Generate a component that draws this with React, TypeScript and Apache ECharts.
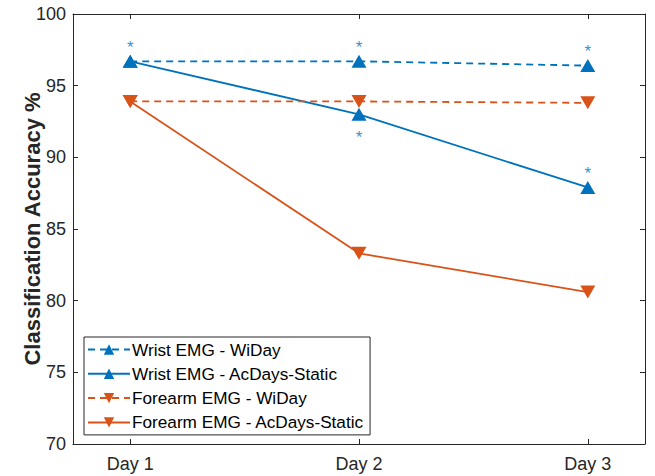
import React, { useEffect, useRef } from "react";
import * as echarts from "echarts";

const dayLabels = ["Day 1", "Day 2", "Day 3"];
const dayPositions = [1, 2, 3];
const wristWiDay = [96.7, 96.7, 96.4];
const wristAcDays = [96.7, 93.0, 87.9];
const forearmWiDay = [93.9, 93.9, 93.8];
const forearmAcDays = [93.9, 83.3, 80.6];
const starMarks: [number, number][] = [
  [1, 97.9],
  [2, 97.9],
  [3, 97.6],
  [2, 91.6],
  [3, 89.1],
];
const seriesNames = [
  "Wrist EMG - WiDay",
  "Wrist EMG - AcDays-Static",
  "Forearm EMG - WiDay",
  "Forearm EMG - AcDays-Static",
];

const BLUE = "#0072BD";
const ORANGE = "#D95319";
const AXIS = "#262626";
const FONT = "Liberation Sans, Arial, sans-serif";

function pts(vals: number[]) {
  return vals.map((v, i) => [dayPositions[i], v]);
}

export default function App() {
  const ref = useRef<HTMLDivElement>(null);
  useEffect(() => {
    if (!ref.current) return;
    const chart = echarts.init(ref.current, null, { renderer: "svg" });
    const mk = (
      name: string,
      vals: number[],
      color: string,
      dashed: boolean,
      down: boolean
    ) => ({
      name,
      type: "line",
      data: pts(vals),
      symbol: "triangle",
      symbolSize: [15, 13],
      symbolRotate: down ? 180 : 0,
      showAllSymbol: true,
      lineStyle: { color, width: 1.8, type: dashed ? [7, 5] : "solid" },
      itemStyle: { color },
      z: 3,
    });
    chart.setOption({
      animation: false,
      backgroundColor: "#fff",
      grid: { left: 73, right: 10, top: 14, bottom: 32, containLabel: false },
      xAxis: [
        {
          type: "value",
          min: 0.75,
          max: 3.25,
          axisLine: { show: true, lineStyle: { color: AXIS, width: 1 } },
          axisTick: { show: true, inside: true, length: 5, customValues: dayPositions, lineStyle: { color: AXIS } },
          axisLabel: {
            customValues: dayPositions,
            formatter: (v: number) => dayLabels[Math.round(v) - 1] ?? "",
            fontSize: 18,
            color: AXIS,
            fontFamily: FONT,
            margin: 11,
          },
          splitLine: { show: false },
        },
        {
          type: "value",
          position: "top",
          min: 0.75,
          max: 3.25,
          axisLine: { show: true, lineStyle: { color: AXIS, width: 1 } },
          axisTick: { show: true, inside: true, length: 5, customValues: dayPositions, lineStyle: { color: AXIS } },
          axisLabel: { show: false },
          splitLine: { show: false },
        },
      ],
      yAxis: [
        {
          type: "value",
          min: 70,
          max: 100,
          interval: 5,
          name: "Classification Accuracy %",
          nameLocation: "middle",
          nameGap: 30,
          nameMoveOverlap: false,
          nameTextStyle: { fontSize: 22, fontWeight: "bold", color: AXIS, fontFamily: FONT },
          axisLine: { show: true, lineStyle: { color: AXIS, width: 1 } },
          axisTick: { show: true, inside: true, length: 5, lineStyle: { color: AXIS } },
          axisLabel: { fontSize: 18, color: AXIS, fontFamily: FONT, margin: 7 },
          splitLine: { show: false },
        },
        {
          type: "value",
          position: "right",
          min: 70,
          max: 100,
          interval: 5,
          axisLine: { show: true, lineStyle: { color: AXIS, width: 1 } },
          axisTick: { show: true, inside: true, length: 5, lineStyle: { color: AXIS } },
          axisLabel: { show: false },
          splitLine: { show: false },
        },
      ],
      legend: {
        data: seriesNames,
        orient: "vertical",
        left: 84,
        top: 337,
        itemWidth: 42,
        itemHeight: 13,
        itemGap: 7.3,
        padding: [4, 6, 4, 3],
        backgroundColor: "#fff",
        borderColor: AXIS,
        borderWidth: 1,
        textStyle: { fontSize: 17.2, color: "#000", fontFamily: FONT, padding: [0, 0, 0, -3] },
      },
      series: [
        mk(seriesNames[0], wristWiDay, BLUE, true, false),
        mk(seriesNames[1], wristAcDays, BLUE, false, false),
        mk(seriesNames[2], forearmWiDay, ORANGE, true, true),
        mk(seriesNames[3], forearmAcDays, ORANGE, false, true),
        {
          name: "sig",
          type: "scatter",
          data: starMarks,
          symbol: "circle",
          symbolSize: 1,
          itemStyle: { color: "rgba(0,0,0,0)" },
          label: {
            show: true,
            position: "inside",
            formatter: "*",
            fontSize: 17,
            color: BLUE,
            fontFamily: FONT,
            offset: [0, 3],
          },
          z: 4,
        },
      ],
    });
    return () => chart.dispose();
  }, []);
  return <div ref={ref} style={{ width: 655, height: 476, position: "absolute", left: 0, top: 0 }} />;
}
